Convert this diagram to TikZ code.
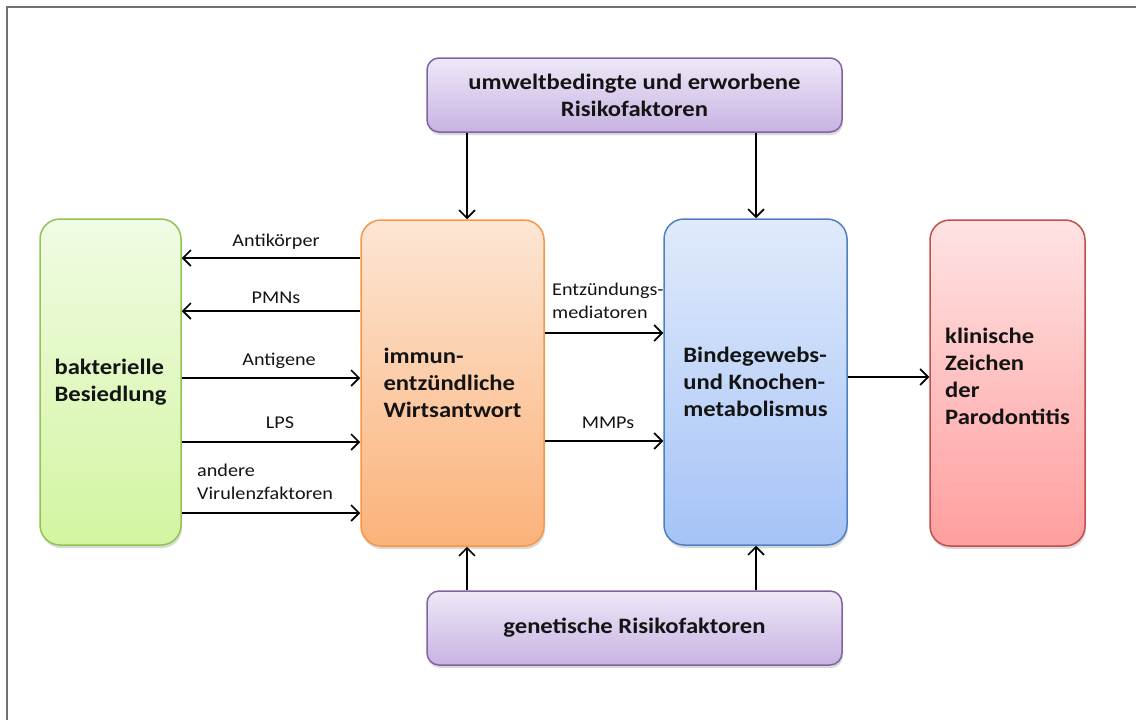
\documentclass[tikz,border=0pt]{standalone}
\usepackage{fontspec}
\setmainfont{Carlito}[FakeStretch=1.12]
\usetikzlibrary{arrows.meta,shadows}
\definecolor{gB}{HTML}{92C353}\definecolor{gT}{HTML}{F0FBE4}\definecolor{gU}{HTML}{D3F5A0}
\definecolor{oB}{HTML}{F79646}\definecolor{oT}{HTML}{FDE6D4}\definecolor{oU}{HTML}{FBB27A}
\definecolor{bB}{HTML}{4F81BD}\definecolor{bT}{HTML}{E0EAFB}\definecolor{bU}{HTML}{A5C3F7}
\definecolor{rB}{HTML}{C0504D}\definecolor{rT}{HTML}{FFE3E3}\definecolor{rU}{HTML}{FF9E9E}
\definecolor{pB}{HTML}{8064A2}\definecolor{pT}{HTML}{EEE8F8}\definecolor{pU}{HTML}{C7B3E2}
\definecolor{txt}{HTML}{141414}
\definecolor{frame}{HTML}{707070}
\begin{document}
\begin{tikzpicture}[x=1pt,y=-1pt,
  box/.style={line width=1.5pt, rounded corners=20pt, inner sep=0pt, align=left,
    text=txt, font=\fontsize{22}{27}\selectfont\bfseries,
    drop shadow={opacity=0.3,shadow xshift=1pt,shadow yshift=-3pt}},
  tall/.style={box, minimum height=326pt},
  wide/.style={box, rounded corners=12pt, align=center, minimum width=415pt, minimum height=74pt},
  arr/.style={-{Straight Barb[length=8pt,width=16pt]}, line width=1.6pt, draw=black},
  lbl/.style={font=\fontsize{18}{23}\selectfont, inner sep=0pt, text=txt}]
\useasboundingbox (0,0) rectangle (1136,720);
\draw[frame, line width=2pt] (6.5,720) -- (6.5,6.5) -- (1136,6.5);

\node[tall, draw=gB, top color=gT, bottom color=gU, minimum width=141pt] (g) at (110.5,382) {bakterielle\\Besiedlung};
\node[tall, draw=oB, top color=oT, bottom color=oU, minimum width=183pt] (o) at (452.5,383) {immun-\\entzündliche\\Wirtsantwort};
\node[tall, draw=bB, top color=bT, bottom color=bU, minimum width=183pt] (b) at (755.5,382) {Bindegewebs-\\und Knochen-\\metabolismus};
\node[tall, draw=rB, top color=rT, bottom color=rU, minimum width=155pt] (r) at (1007.5,383) {klinische\\Zeichen\\der\\Parodontitis\\[-14pt]\mbox{}};
\node[wide, draw=pB, top color=pT, bottom color=pU] (t) at (634.5,95) {umweltbedingte und erworbene\\Risikofaktoren};
\node[wide, draw=pB, top color=pT, bottom color=pU] (u) at (634.5,628) {genetische Risikofaktoren};

% left arrows
\draw[arr] ([yshift=125pt]o.west) -- ([yshift=125pt]o.west -| g.east);
\draw[arr] ([yshift=72pt]o.west) -- ([yshift=72pt]o.west -| g.east);
\draw[arr] ([yshift=5pt]o.west -| g.east) -- ([yshift=5pt]o.west);
\draw[arr] ([yshift=-59pt]o.west -| g.east) -- ([yshift=-59pt]o.west);
\draw[arr] ([yshift=-130pt]o.west -| g.east) -- ([yshift=-130pt]o.west);
\node[lbl] (l1) at (276,242) {Antikörper};
\node[lbl] (l2) at (276,298) {PMNs};
\node[lbl] (l3) at (279,361) {Antigene};
\node[lbl] (l4) at (280,423) {LPS};
\node[lbl, anchor=west, align=left] (l5) at (197,482) {andere\\Virulenzfaktoren};

% middle arrows
\draw[arr] ([yshift=50pt]o.east) -- ([yshift=50pt]o.east -| b.west);
\draw[arr] ([yshift=-58pt]o.east) -- ([yshift=-58pt]o.east -| b.west);
\node[lbl, anchor=west, align=left] (l6) at (552,301) {Entzündungs-\\mediatoren};
\node[lbl] (l7) at (608,423) {MMPs};

% to red
\draw[arr] ([yshift=5pt]b.east) -- ([yshift=5pt]b.east -| r.west);

% vertical arrows
\coordinate (ox) at ([xshift=14.5pt]o.north);
\coordinate (oxs) at ([xshift=14.5pt]o.south);
\coordinate (bx) at ([xshift=0.5pt]b.north);
\coordinate (bxs) at ([xshift=0.5pt]b.south);
\draw[arr] (ox |- t.south) -- (ox);
\draw[arr] (bx |- t.south) -- (bx);
\draw[arr] (oxs |- u.north) -- (oxs);
\draw[arr] (bxs |- u.north) -- (bxs);
\end{tikzpicture}
\end{document}
